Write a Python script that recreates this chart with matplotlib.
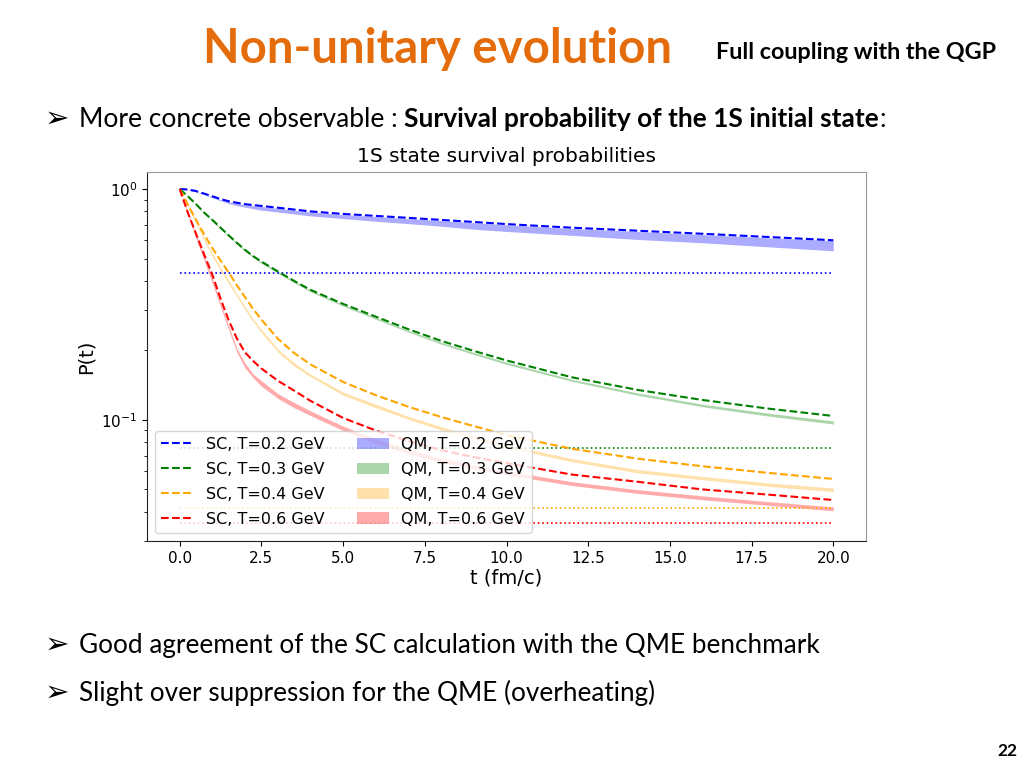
import matplotlib
matplotlib.use("Agg")
import matplotlib.pyplot as plt
from matplotlib.patches import Patch
from matplotlib.lines import Line2D

W, H = 1024, 768
FAM = ['Lato', 'DejaVu Sans']

# time grid (fm/c)
t = [0, 0.25, 0.5, 0.75, 1, 1.25, 1.5, 1.75, 2, 2.25, 2.5, 3, 3.5, 4, 5, 6, 7, 8, 9, 10,
     12, 14, 16, 18, 20]

# semi-classical curves
sc_02 = [1.0, 0.995, 0.98, 0.955, 0.93, 0.905, 0.885, 0.872, 0.86, 0.852, 0.845, 0.83, 0.815,
         0.80, 0.78, 0.765, 0.75, 0.735, 0.72, 0.705, 0.68, 0.66, 0.64, 0.62, 0.60]
sc_03 = [1.0, 0.93, 0.86, 0.79, 0.735, 0.68, 0.63, 0.585, 0.545, 0.512, 0.485, 0.44, 0.40,
         0.366, 0.318, 0.28, 0.247, 0.22, 0.199, 0.181, 0.153, 0.135, 0.122, 0.112, 0.104]
sc_04 = [1.0, 0.855, 0.735, 0.635, 0.555, 0.49, 0.435, 0.383, 0.34, 0.302, 0.272, 0.225, 0.195,
         0.174, 0.146, 0.128, 0.114, 0.103, 0.094, 0.086, 0.075, 0.068, 0.063, 0.059, 0.0555]
sc_06 = [1.0, 0.79, 0.64, 0.52, 0.425, 0.335, 0.27, 0.225, 0.196, 0.18, 0.167, 0.148, 0.134,
         0.121, 0.102, 0.09, 0.081, 0.074, 0.069, 0.065, 0.058, 0.054, 0.05, 0.0475, 0.045]

# quantum master equation bands
qm_02_hi = [1.0, 0.993, 0.976, 0.95, 0.925, 0.9, 0.88, 0.867, 0.855, 0.847, 0.84, 0.825, 0.81,
            0.795, 0.775, 0.76, 0.745, 0.73, 0.715, 0.70, 0.675, 0.655, 0.635, 0.615, 0.598]
qm_02_lo = [1.0, 0.99, 0.97, 0.945, 0.915, 0.89, 0.865, 0.848, 0.835, 0.822, 0.81, 0.795, 0.78,
            0.765, 0.745, 0.725, 0.708, 0.69, 0.67, 0.655, 0.63, 0.605, 0.585, 0.562, 0.54]
qm_03_hi = [1.0, 0.93, 0.86, 0.79, 0.735, 0.68, 0.63, 0.585, 0.545, 0.512, 0.485, 0.44, 0.40,
            0.365, 0.316, 0.278, 0.244, 0.217, 0.196, 0.178, 0.150, 0.131, 0.117, 0.107, 0.099]
qm_03_lo = [1.0, 0.925, 0.852, 0.782, 0.725, 0.671, 0.62, 0.577, 0.537, 0.504, 0.477, 0.432,
            0.393, 0.359, 0.311, 0.273, 0.24, 0.213, 0.192, 0.174, 0.147, 0.128, 0.114, 0.104,
            0.096]
qm_04_hi = [1.0, 0.856, 0.73, 0.615, 0.53, 0.459, 0.402, 0.352, 0.31, 0.274, 0.247, 0.203,
            0.177, 0.158, 0.132, 0.117, 0.1035, 0.0935, 0.0853, 0.0782, 0.068, 0.061, 0.0569,
            0.0534, 0.0507]
qm_04_lo = [1.0, 0.844, 0.71, 0.595, 0.51, 0.445, 0.388, 0.342, 0.3, 0.266, 0.239, 0.197,
            0.171, 0.154, 0.128, 0.113, 0.1005, 0.0905, 0.0827, 0.0758, 0.066, 0.059, 0.0551,
            0.0516, 0.0489]
qm_06_hi = [1.0, 0.795, 0.64, 0.512, 0.41, 0.321, 0.255, 0.204, 0.176, 0.158, 0.148, 0.13,
            0.119, 0.1095, 0.094, 0.0827, 0.0745, 0.0683, 0.0637, 0.0601, 0.054, 0.0499,
            0.0469, 0.0443, 0.042]
qm_06_lo = [1.0, 0.775, 0.61, 0.488, 0.39, 0.309, 0.245, 0.196, 0.168, 0.152, 0.14, 0.124,
            0.113, 0.1045, 0.09, 0.0793, 0.0715, 0.0657, 0.0613, 0.0579, 0.052, 0.0481,
            0.0451, 0.0427, 0.0404]

# asymptotic (equilibrium) levels
eq_levels = [0.433, 0.0755, 0.0414, 0.0357]

temps = ['0.2', '0.3', '0.4', '0.6']
colors = ['blue', 'green', 'orange', 'red']
sc_all = [sc_02, sc_03, sc_04, sc_06]
qm_all = [(qm_02_lo, qm_02_hi), (qm_03_lo, qm_03_hi), (qm_04_lo, qm_04_hi), (qm_06_lo, qm_06_hi)]

fig = plt.figure(figsize=(W / 100, H / 100), dpi=100)
ax = fig.add_axes([147 / W, 1 - 541 / H, (866 - 147) / W, (541 - 172) / H])

for c, (lo, hi) in zip(colors, qm_all):
    ax.fill_between(t, lo, hi, color=c, alpha=0.33, lw=0)
for c, lev in zip(colors, eq_levels):
    ax.plot([t[0], t[-1]], [lev, lev], ':', color=c, lw=1.2)
for c, sc in zip(colors, sc_all):
    ax.plot(t, sc, '--', color=c, lw=1.5)

ax.set_yscale('log')
ax.set_xlim(-1, 21)
ax.set_ylim(0.0299, 1.185)
ax.set_xticks([0, 2.5, 5, 7.5, 10, 12.5, 15, 17.5, 20])
ax.tick_params(labelsize=11)
ax.set_xlabel('t (fm/c)', fontsize=14, labelpad=2)
ax.set_ylabel('P(t)', fontsize=14)
ax.set_title('1S state survival probabilities', fontsize=14.5, pad=7)
for s in ['top', 'right']:
    ax.spines[s].set_color('#999999')
for s in ['left', 'bottom']:
    ax.spines[s].set_color('#222222')

handles = [Line2D([], [], ls='--', color=c, lw=1.5) for c in colors]
handles += [Patch(color=c, alpha=0.33, lw=0) for c in colors]
labels = ['SC, T=%s GeV' % T for T in temps] + ['QM, T=%s GeV' % T for T in temps]
ax.legend(handles, labels, loc='lower left', ncol=2, fontsize=11.5, columnspacing=2.0,
          labelspacing=0.62)

# slide text
r = fig.canvas.get_renderer()


def put(s, x, y, size, **kw):
    return fig.text(x / W, 1 - y / H, s, fontsize=size, va='baseline', ha='left',
                    family=FAM, **kw)


def fit(s, x0, x1, y, **kw):
    tx = put(s, x0, y, 20, **kw)
    w = tx.get_window_extent(r).width
    tx.set_fontsize(20 * (x1 - x0) / w)
    return tx


def line(parts, x0, x1, y):
    # parts: (text, weight); scale all to the target width
    txs = [put(s, x0, y, 20, weight=wt) for s, wt in parts]
    total = sum(tx.get_window_extent(r).width for tx in txs)
    k = (x1 - x0) / total
    x = x0
    for tx in txs:
        tx.set_fontsize(20 * k)
        tx.set_x(x / W)
        x += tx.get_window_extent(r).width


fit('Non-unitary evolution', 203, 672, 63, weight='bold', color='#E46C0A')
fit('Full coupling with the QGP', 716, 997, 59, weight='bold')

for y in [127, 653, 701]:
    fig.text(45 / W, 1 - (y - 8) / H, '\u27a2', fontsize=21, family=['DejaVu Sans'],
             va='center', ha='left')

line([('More concrete observable : ', 'normal'),
      ('Survival probability of the 1S initial state', 'bold'),
      (':', 'normal')], 79, 887, 127)
fit('Good agreement of the SC calculation with the QME benchmark', 79, 818, 653)
fit('Slight over suppression for the QME (overheating)', 79, 656, 701)
fit('22', 997, 1017, 756, weight='bold')

fig.savefig('out.png', dpi=100)
